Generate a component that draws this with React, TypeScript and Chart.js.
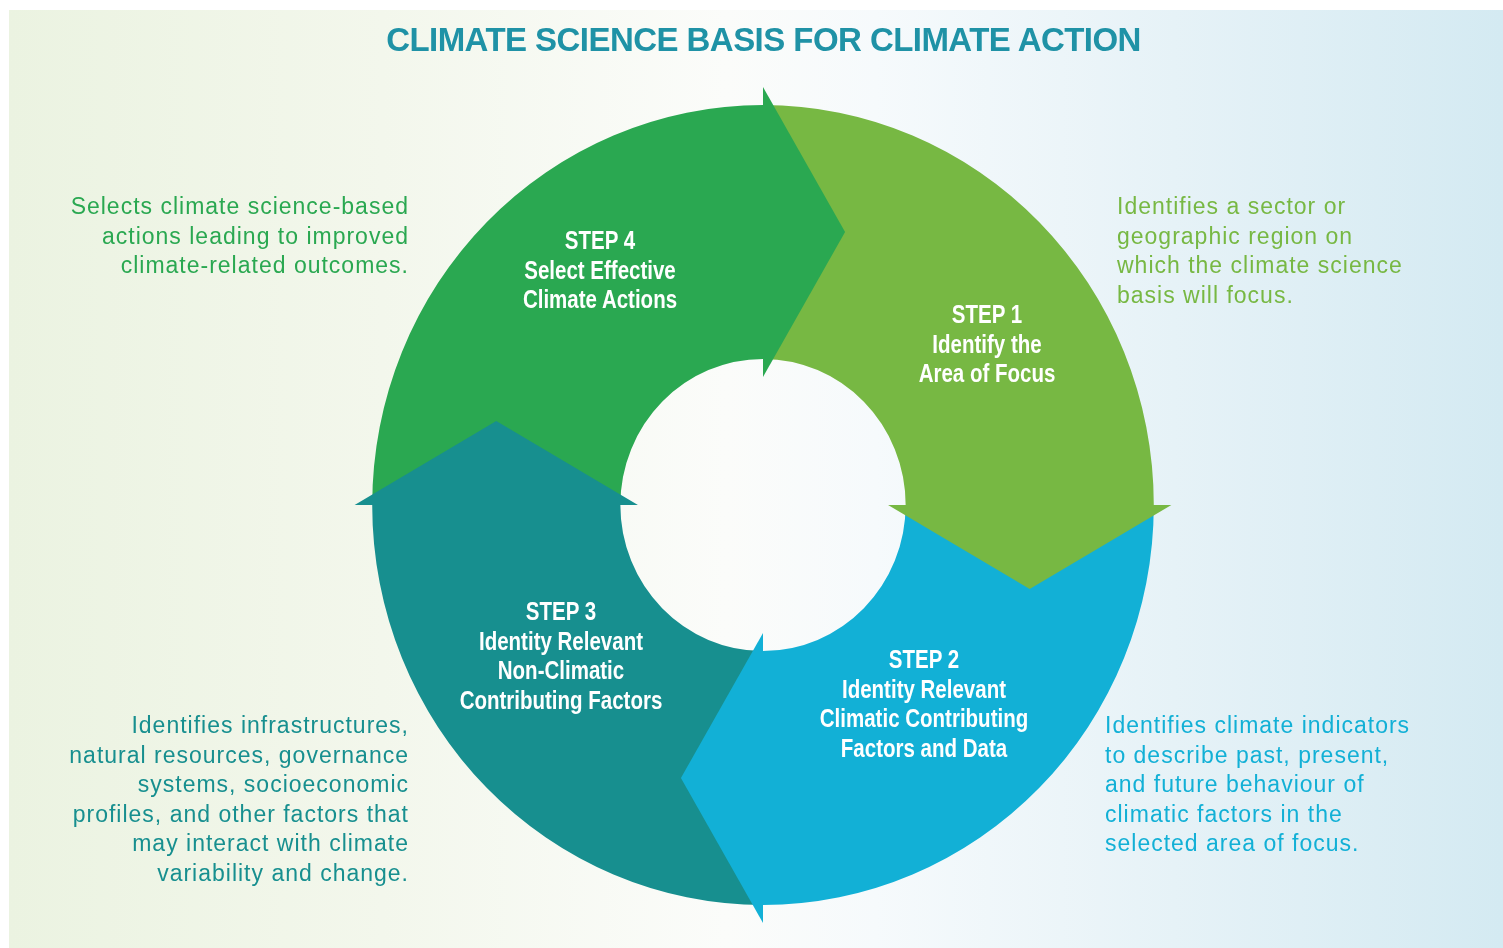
import React, { useEffect, useRef } from "react";
import { Chart, registerables } from "chart.js";

Chart.register(...registerables);

// ---- data ----
const steps = ["Step 1", "Step 2", "Step 3", "Step 4"];
const shares = [25, 25, 25, 25];
const stepColors = ["#77b843", "#12b0d6", "#178f8f", "#2aa851"];
const title = "CLIMATE SCIENCE BASIS FOR CLIMATE ACTION";
const step1Lines = ["STEP 1", "Identify the", "Area of Focus"];
const step2Lines = ["STEP 2", "Identity Relevant", "Climatic Contributing", "Factors and Data"];
const step3Lines = ["STEP 3", "Identity Relevant", "Non-Climatic", "Contributing Factors"];
const step4Lines = ["STEP 4", "Select Effective", "Climate Actions"];
const desc1 = ["Identifies a sector or", "geographic region on", "which the climate science", "basis will focus."];
const desc2 = ["Identifies climate indicators", "to describe past, present,", "and future behaviour of", "climatic factors in the", "selected area of focus."];
const desc3 = ["Identifies infrastructures,", "natural resources, governance", "systems, socioeconomic", "profiles, and other factors that", "may interact with climate", "variability and change."];
const desc4 = ["Selects climate science-based", "actions leading to improved", "climate-related outcomes."];

const X_SCALE = 0.977;
const ARROW_EXT = 18;
const ARROW_TIP = 84;

const arrowPlugin = {
  id: "cycleArrows",
  beforeDatasetsDraw(chart: any) {
    const arc = chart.getDatasetMeta(0).data[0];
    const ctx = chart.ctx;
    ctx.save();
    ctx.translate(arc.x, arc.y);
    ctx.scale(X_SCALE, 1);
    ctx.translate(-arc.x, -arc.y);
  },
  afterDatasetsDraw(chart: any) {
    const ctx = chart.ctx;
    const meta = chart.getDatasetMeta(0);
    meta.data.forEach((el: any, i: number) => {
      const { x, y, endAngle, innerRadius, outerRadius } = el.getProps(
        ["x", "y", "endAngle", "innerRadius", "outerRadius"],
        true
      );
      const mid = (innerRadius + outerRadius) / 2;
      const c = Math.cos(endAngle);
      const s = Math.sin(endAngle);
      ctx.beginPath();
      ctx.moveTo(x + c * (outerRadius + ARROW_EXT), y + s * (outerRadius + ARROW_EXT));
      ctx.lineTo(x + c * mid - s * ARROW_TIP, y + s * mid + c * ARROW_TIP);
      ctx.lineTo(x + c * (innerRadius - ARROW_EXT), y + s * (innerRadius - ARROW_EXT));
      ctx.closePath();
      ctx.fillStyle = stepColors[i];
      ctx.fill();
    });
    ctx.restore();
  },
};

const stepFont: React.CSSProperties = {
  position: "absolute",
  width: 300,
  textAlign: "center",
  color: "#ffffff",
  fontFamily: "'Liberation Sans', Arial, sans-serif",
  fontWeight: 700,
  fontSize: 25,
  lineHeight: "29.5px",
  whiteSpace: "nowrap",
  transform: "scaleX(0.82)",
  transformOrigin: "50% 50%",
};

const descFont: React.CSSProperties = {
  position: "absolute",
  fontFamily: "'Liberation Sans', Arial, sans-serif",
  fontSize: 23,
  letterSpacing: "1px",
  lineHeight: "29.6px",
  whiteSpace: "nowrap",
};

function Lines({ lines }: { lines: string[] }) {
  return (
    <>
      {lines.map((l, i) => (
        <div key={i}>{l}</div>
      ))}
    </>
  );
}

export default function App() {
  const ref = useRef<HTMLCanvasElement>(null);
  useEffect(() => {
    if (!ref.current) return;
    const chart = new Chart(ref.current, {
      type: "doughnut",
      data: {
        labels: steps,
        datasets: [
          {
            data: shares,
            backgroundColor: stepColors,
            borderWidth: 0,
          },
        ],
      },
      options: {
        responsive: false,
        animation: false,
        events: [],
        radius: 400,
        cutout: "36.5%",
        layout: { padding: { left: 23, top: 62, right: 0, bottom: 0 } },
        plugins: {
          legend: { display: false },
          tooltip: { enabled: false },
        },
      } as any,
      plugins: [arrowPlugin],
    });
    return () => chart.destroy();
  }, []);

  return (
    <div style={{ position: "absolute", left: 0, top: 0, width: 1503, height: 948, overflow: "hidden", background: "#ffffff" }}>
      <div
        style={{
          position: "absolute",
          left: 9,
          top: 10,
          width: 1494,
          height: 938,
          background:
            "linear-gradient(to right, #ebf3e1 0%, #f3f7ec 25%, #fbfcfa 48%, #f6fafc 58%, #e6f2f7 78%, #d4eaf2 100%)",
        }}
      />
      <canvas ref={ref} width={1503} height={948} style={{ position: "absolute", left: 0, top: 0, width: 1503, height: 948 }} />
      <div
        style={{
          position: "absolute",
          left: 0,
          width: 1527,
          top: 20,
          textAlign: "center",
          color: "#1f92a6",
          fontFamily: "'Liberation Sans', Arial, sans-serif",
          fontWeight: 700,
          fontSize: 33,
          letterSpacing: "-0.55px",
          lineHeight: "40px",
          whiteSpace: "nowrap",
        }}
      >
        {title}
      </div>
      <div style={{ ...stepFont, left: 987 - 150, top: 300 }}>
        <Lines lines={step1Lines} />
      </div>
      <div style={{ ...stepFont, left: 924 - 150, top: 645 }}>
        <Lines lines={step2Lines} />
      </div>
      <div style={{ ...stepFont, left: 561 - 150, top: 597 }}>
        <Lines lines={step3Lines} />
      </div>
      <div style={{ ...stepFont, left: 600 - 150, top: 226 }}>
        <Lines lines={step4Lines} />
      </div>
      <div style={{ ...descFont, left: 1117, top: 192, color: stepColors[0] }}>
        <Lines lines={desc1} />
      </div>
      <div style={{ ...descFont, left: 1105, top: 711, color: stepColors[1] }}>
        <Lines lines={desc2} />
      </div>
      <div style={{ ...descFont, left: 0, width: 409, textAlign: "right", top: 711, color: stepColors[2] }}>
        <Lines lines={desc3} />
      </div>
      <div style={{ ...descFont, left: 0, width: 409, textAlign: "right", top: 192, color: stepColors[3] }}>
        <Lines lines={desc4} />
      </div>
    </div>
  );
}
